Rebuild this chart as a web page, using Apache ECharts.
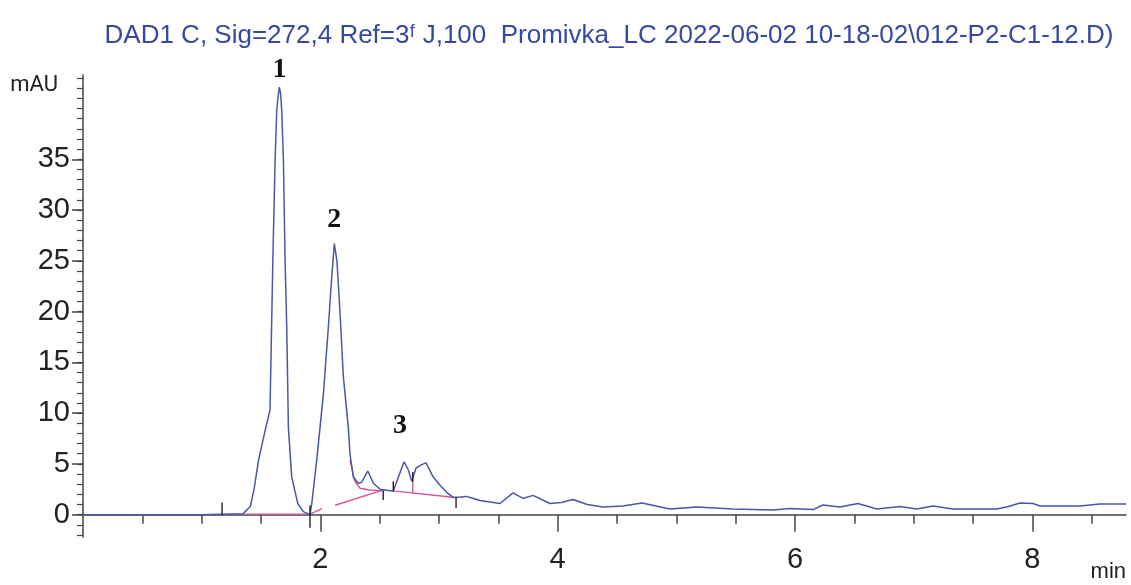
<!DOCTYPE html>
<html>
<head>
<meta charset="utf-8">
<title>DAD1 C chromatogram</title>
<script src="https://cdn.jsdelivr.net/npm/echarts@6/dist/echarts.min.js"></script>
<style>
  html, body { margin: 0; padding: 0; background: #fff; }
  #chart { width: 1131px; height: 585px; }
</style>
</head>
<body>
<div id="chart"></div>
<script>
// retention time (min) and signal (mAU)
const timeMin = [0, 0.99, 1.35, 1.41, 1.44, 1.48, 1.535, 1.576, 1.60, 1.619, 1.633, 1.645, 1.655, 1.665, 1.675,
  1.689, 1.703, 1.717, 1.731, 1.759, 1.81, 1.857, 1.913, 1.928, 1.97, 2.026, 2.068, 2.096, 2.118, 2.14, 2.165,
  2.194, 2.236, 2.25, 2.278, 2.32, 2.349, 2.40, 2.447, 2.503, 2.56, 2.615, 2.658, 2.706, 2.742, 2.77, 2.807,
  2.85, 2.891, 2.952, 3.009, 3.065, 3.121, 3.18, 3.234, 3.29, 3.346, 3.43, 3.515, 3.624, 3.708, 3.792, 3.936,
  4.03, 4.13, 4.25, 4.382, 4.55, 4.711, 4.947, 5.175, 5.478, 5.815, 5.958, 6.152, 6.236, 6.379, 6.531, 6.691,
  6.885, 7.028, 7.163, 7.331, 7.702, 7.80, 7.896, 8.006, 8.065, 8.402, 8.57, 8.79];
const absorbance = [0, 0, 0.1, 0.8, 2.4, 5.4, 8.3, 10.3, 25.1, 34.9, 39.8, 41.3, 42.1, 41.5, 39.8,
  34.9, 25.1, 18.5, 8.6, 3.7, 1.1, 0.3, 0.0, 1.1, 5.4, 11.9, 18.5, 23.4, 26.7, 25.0, 20.1,
  13.6, 8.6, 6.0, 3.7, 3.1, 3.2, 4.3, 3.1, 2.5, 2.4, 2.3, 3.7, 5.2, 4.4, 3.3, 4.6,
  4.9, 5.1, 3.7, 2.9, 2.2, 1.7, 1.75, 1.8, 1.6, 1.4, 1.25, 1.1, 2.15, 1.6, 1.9, 1.1,
  1.2, 1.5, 1.0, 0.75, 0.85, 1.15, 0.55, 0.75, 0.55, 0.45, 0.6, 0.5, 0.95, 0.75, 1.1, 0.55,
  0.8, 0.55, 0.85, 0.55, 0.55, 0.8, 1.15, 1.1, 0.85, 0.85, 1.05, 1.05];

// integration baselines (pink), each a list of [min, mAU]
const baselines = [
  [[1.37, 0.05], [1.913, 0.05], [2.015, 0.6]],
  [[2.124, 0.93], [2.52, 2.4]],
  [[2.25, 5.4], [2.29, 3.3], [2.335, 2.6], [2.4, 2.45], [2.52, 2.34]],
  [[2.615, 2.34], [3.135, 1.69]],
  [[2.779, 2.1], [2.779, 3.2]]
];

// integration event ticks (black): time, low mAU, high mAU
const eventTimes = [1.172, 1.913, 2.53, 2.615, 2.779, 3.144];
const eventLow = [0, -1.3, 1.45, 2.34, 3.2, 0.65];
const eventHigh = [1.2, 0.9, 2.4, 3.3, 4.2, 1.7];

// peak numbers
const peakNames = ['1', '2', '3'];
const peakTimes = [1.655, 2.118, 2.706];
const peakHeights = [42.1, 26.7, 5.2];

const yMajor = [0, 5, 10, 15, 20, 25, 30, 35];
const xMajor = [2, 4, 6, 8];

const sans = '"Liberation Sans", Arial, sans-serif';
const yMin = -2.2, yMax = 43.3, xMin = 0, xMax = 8.79;

const yMinor = [];
for (let v = -2; v <= 43; v++) yMinor.push(v);
const xMinor = [];
for (let v = 0.5; v <= 8.5; v += 0.5) if (v % 2 !== 0) xMinor.push(v);

const gridRect = { left: 83, right: 5, top: 75, bottom: 48, outerBoundsMode: 'none', containLabel: false };

const chart = echarts.init(document.getElementById('chart'));

const series = [
  {
    type: 'line',
    data: timeMin.map((t, i) => [t, absorbance[i]]),
    showSymbol: false,
    lineStyle: { color: '#4a56a6', width: 1.5 },
    z: 3,
    markPoint: {
      symbol: 'circle',
      symbolSize: 0,
      data: peakNames.map((n, i) => ({
        name: n,
        coord: [peakTimes[i], peakHeights[i]],
        label: {
          show: true,
          formatter: n,
          position: 'top',
          distance: i === 0 ? 3 : 10,
          offset: i === 2 ? [-4, -12] : [0, 0],
          fontFamily: '"Liberation Serif", "Times New Roman", serif',
          fontWeight: 'bold',
          fontSize: 28,
          color: '#111'
        }
      }))
    }
  }
];

baselines.forEach((seg) => {
  series.push({
    type: 'line',
    data: seg,
    showSymbol: false,
    lineStyle: { color: '#d65596', width: 1.4 },
    z: 2
  });
});

eventTimes.forEach((t, i) => {
  series.push({
    type: 'line',
    data: [[t, eventLow[i]], [t, eventHigh[i]]],
    showSymbol: false,
    lineStyle: { color: '#222', width: 1.4 },
    z: 4
  });
});

chart.setOption({
  animation: false,
  title: {
    text: 'DAD1 C, Sig=272,4 Ref=3\u1da0 J,100  Promivka_LC 2022-06-02 10-18-02\\012-P2-C1-12.D)',
    left: 604,
    textAlign: 'center',
    top: 18,
    textStyle: { fontFamily: sans, fontSize: 26, fontWeight: 'normal', color: '#3549a3' }
  },
  grid: [
    Object.assign({}, gridRect),
    Object.assign({}, gridRect)
  ],
  xAxis: [
    {
      type: 'value', gridIndex: 0, min: xMin, max: xMax,
      name: 'min', nameLocation: 'end', nameGap: 0,
      nameTextStyle: { fontFamily: sans, fontSize: 22, color: '#222', align: 'right', verticalAlign: 'top', padding: [46, 0, 0, 0] },
      axisLine: { lineStyle: { color: '#444', width: 1.5 } },
      axisTick: { customValues: xMajor, length: 17, lineStyle: { color: '#444', width: 1.5 } },
      axisLabel: { customValues: xMajor, margin: 8, fontFamily: sans, fontSize: 29, color: '#222' },
      splitLine: { show: false }
    },
    {
      type: 'value', gridIndex: 1, min: xMin, max: xMax,
      axisLine: { show: false },
      axisTick: { customValues: xMinor, length: 9, lineStyle: { color: '#444', width: 1.5 } },
      axisLabel: { show: false },
      splitLine: { show: false }
    }
  ],
  yAxis: [
    {
      type: 'value', gridIndex: 0, min: yMin, max: yMax,
      name: 'mAU', nameLocation: 'end', nameGap: -10,
      nameTextStyle: { fontFamily: 'Roboto, sans-serif', fontSize: 22, color: '#222', align: 'right', verticalAlign: 'middle', padding: [0, 25, 0, 0] },
      axisLine: { show: true, lineStyle: { color: '#444', width: 1.5 } },
      axisTick: { show: true, customValues: yMajor, length: 11, lineStyle: { color: '#444', width: 1.5 } },
      axisLabel: { customValues: yMajor, margin: 13, fontFamily: sans, fontSize: 29, color: '#222' },
      splitLine: { show: false }
    },
    {
      type: 'value', gridIndex: 1, min: yMin, max: yMax,
      axisLine: { show: false },
      axisTick: { show: true, customValues: yMinor, length: 6, lineStyle: { color: '#444', width: 1.2 } },
      axisLabel: { show: false },
      splitLine: { show: false }
    }
  ],
  series: series
});
</script>
</body>
</html>
